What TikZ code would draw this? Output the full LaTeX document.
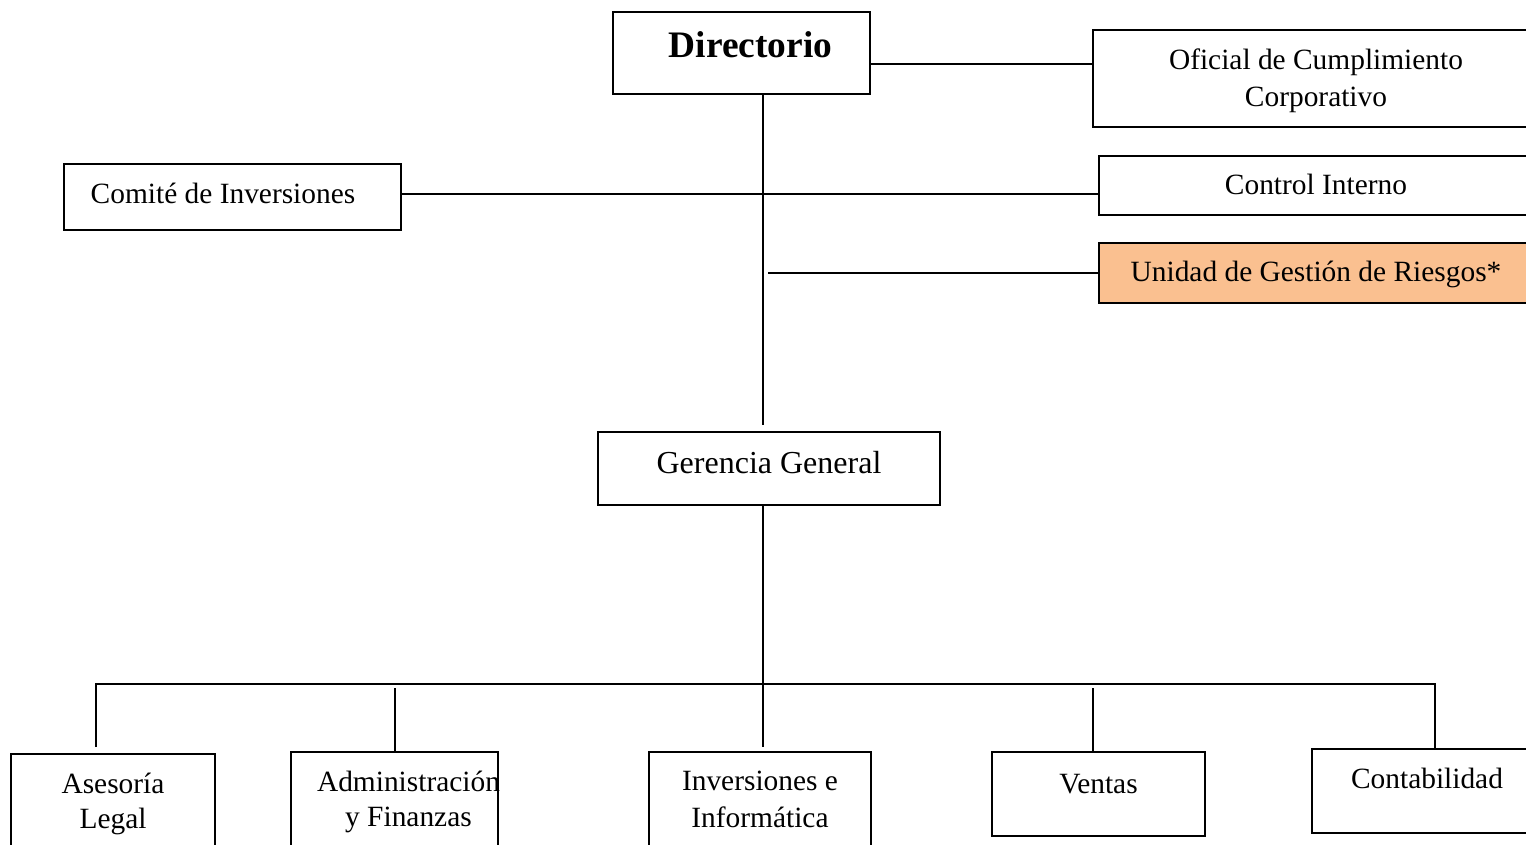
\documentclass[tikz,border=0pt]{standalone}
\usepackage{fontspec}
\setmainfont{Liberation Serif}
\usetikzlibrary{fit}

\definecolor{naranja}{HTML}{FAC090}

\tikzset{
  caja/.style={draw, line width=1pt, inner sep=0pt},
  every label/.style={align=center, inner sep=0pt},
}

\begin{document}
\begin{tikzpicture}[x=0.5pt, y=-0.5pt, line width=1pt, font=\fontsize{14.7}{17.5}\selectfont]
        \useasboundingbox (0,0) rectangle (1526,845);
        \clip (0,0) rectangle (1526,845);

        \node[caja, fit={(613,12) (870,94)},    label={[xshift=4.5pt, yshift=4pt]center:\fontsize{18.7}{22}\selectfont\bfseries Directorio}] (dir) {};
        \node[caja, fit={(1093,30) (1539,127)}, label={[yshift=-1pt]center:Oficial de Cumplimiento\\[1pt]Corporativo}] (ofi) {};
        \node[caja, fit={(64,164) (401,230)},   label={[xshift=-4.75pt, yshift=2pt]center:Comité de Inversiones}] (com) {};
        \node[caja, fit={(1099,156) (1533,215)}, label={[yshift=0.5pt]center:Control Interno}] (ctrl) {};
        \node[caja, fill=naranja, fit={(1099,243) (1533,303)}, label={[yshift=-0.5pt]center:Unidad de Gestión de Riesgos*}] (uni) {};
        \node[caja, fit={(598,432) (940,505)},  label={[yshift=2.75pt]center:\fontsize{16}{19}\selectfont Gerencia General}] (ger) {};

        \node[caja, fit={(11,754) (215,860)},   label={[yshift=1.75pt]center:Asesoría\\Legal}] (ase) {};
        \node[caja, fit={(291,752) (498,860)},  label={[xshift=7pt, yshift=2.25pt]center:Administración\\y Finanzas}] (adm) {};
        \node[caja, fit={(649,752) (871,860)},  label={[yshift=3.25pt]center:Inversiones e\\[0.75pt]Informática}] (inv) {};
        \node[caja, fit={(992,752) (1205,836)}, label={[yshift=5pt]center:Ventas}] (ven) {};
        \node[caja, fit={(1312,749) (1542,833)}, label={[yshift=6.5pt]center:Contabilidad}] (con) {};

        \coordinate (tronco) at (763,425);
        \coordinate (busL) at (96,684);
        \coordinate (busR) at (1435,684);

        % directorio y staff
        \draw (dir.south -| tronco) -- (tronco);
        \draw ([yshift=-5.5pt]dir.east) -- ([yshift=-5.5pt]dir.east -| ofi.west);
        \draw ([yshift=1.5pt]com.east) -- ([yshift=1.5pt]com.east -| ctrl.west);
        \draw (uni.west) -- ([xshift=2.5pt]uni.west -| tronco);

        % gerencia y areas
        \draw (ger.south -| tronco) -- ([yshift=2pt]inv.north -| tronco);
        \draw ([yshift=3pt]ase.north -| busL) -- (busL) -- (busR) -- (con.north -| busR);
        \draw (adm.north) -- ([yshift=-2pt]adm.north |- busL);
        \draw ([xshift=-2.75pt]ven.north) -- ([xshift=-2.75pt, yshift=-2pt]ven.north |- busL);
    \end{tikzpicture}
\end{document}
